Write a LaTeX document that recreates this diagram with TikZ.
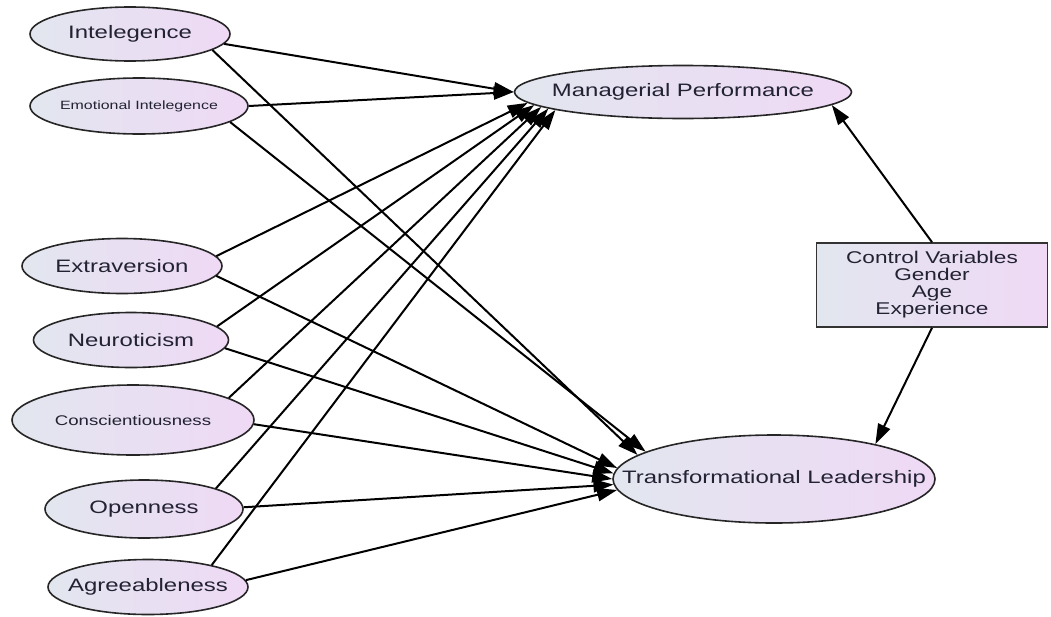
\documentclass[tikz,border=0pt]{standalone}
\usepackage{fontspec}
\setmainfont{Liberation Sans}[FakeStretch=1.33]
\usetikzlibrary{shapes.geometric,arrows.meta}
\definecolor{lc}{HTML}{E2E6EF}
\definecolor{rc}{HTML}{EFD9F5}
\definecolor{tc}{HTML}{222233}
\newcommand{\vtxt}[1]{\makebox[0pt][c]{#1}}
\tikzset{
  var/.style={ellipse, draw=black!85, line width=1.6pt, left color=lc, right color=rc,
    inner sep=0pt, text=tc, font=\fontsize{18}{20}\selectfont},
  ctrlbox/.style={rectangle, draw=black!80, line width=1.6pt, left color=lc, right color=rc,
    inner sep=0pt, text=tc, align=center, font=\fontsize{17}{17}\selectfont},
  conn/.style={line width=2pt, -{Triangle[length=20pt,width=13pt]}}
}
\begin{document}
\begin{tikzpicture}[x=1pt,y=1pt]
\useasboundingbox (0,0) rectangle (1051,-616);
\node[var, minimum width=200pt, minimum height=54pt] (int) at (130,-34) {\vtxt{Intelegence}};
\node[var, minimum width=218pt, minimum height=56pt, font=\fontsize{12}{14}\selectfont] (ei) at (139,-106) {\vtxt{Emotional Intelegence}};
\node[var, minimum width=200pt, minimum height=55pt] (ext) at (122,-266) {\vtxt{Extraversion}};
\node[var, minimum width=195pt, minimum height=55pt] (neu) at (131,-340) {\vtxt{Neuroticism}};
\node[var, minimum width=242pt, minimum height=70pt, font=\fontsize{14}{16}\selectfont] (con) at (133,-420) {\vtxt{Conscientiousness}};
\node[var, minimum width=198pt, minimum height=58pt] (ope) at (144,-509) {\vtxt{Openness}};
\node[var, minimum width=200pt, minimum height=55pt] (agr) at (148,-587) {\vtxt{Agreeableness}};
\node[var, minimum width=337pt, minimum height=53pt] (mp) at (683,-92) {\vtxt{Managerial Performance}};
\node[var, minimum width=322pt, minimum height=88pt] (tl) at (774,-479) {\vtxt{Transformational Leadership}};
\node[ctrlbox, minimum width=231pt, minimum height=84pt] (ctrl) at (932,-285) {Control Variables\\Gender\\Age\\Experience};

\draw[conn] (int.-6) -- (mp.west);
\draw[conn] (ei.east) -- (mp.west);
\draw[conn] (ext.6) -- (mp.184);
\draw[conn] (neu.9) -- (mp.185);
\draw[conn] (con.13) -- (mp.186);
\draw[conn] (ope.16) -- (mp.187);
\draw[conn] (agr.19) -- (mp.188);

\draw[conn] (int.-11) -- (tl.170);
\draw[conn] (ei.-10) -- (tl.168);
\draw[conn] (ext.-6) -- (tl.176);
\draw[conn] (neu.-5) -- (tl.178);
\draw[conn] (con.-2) -- (tl.180);
\draw[conn] (ope.1) -- (tl.182);
\draw[conn] (agr.4) -- (tl.184);

\draw[conn] (ctrl.north) -- (mp.-5);
\draw[conn] (ctrl.south) -- (tl.19);
\end{tikzpicture}
\end{document}
